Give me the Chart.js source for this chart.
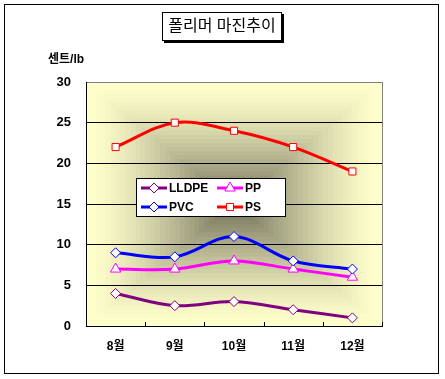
<!DOCTYPE html>
<html>
<head>
<meta charset="utf-8">
<script src="https://cdn.jsdelivr.net/npm/chart.js@4/dist/chart.umd.min.js"></script>
<style>
  html, body { margin:0; padding:0; background:#fff; }
  #wrap { width:445px; height:379px; }
</style>
</head>
<body>
<div id="wrap"><canvas id="chart" width="445" height="379"></canvas></div>
<script>
// chart data
const categories = ['8월', '9월', '10월', '11월', '12월'];
const lldpe = [4, 2.5, 3, 2, 1];
const pp    = [7, 7, 8, 7, 6];
const pvc   = [9, 8.5, 11, 8, 7];
const ps    = [22, 25, 24, 22, 19];
const yMin = 0, yMax = 30, yStep = 5;

const FONT = '"Liberation Sans", "Noto Sans CJK KR", sans-serif';

function series(label, data, color, style, r){
  return {
    label, data,
    borderColor: color, backgroundColor: '#fff',
    borderWidth: 3, tension: 0.35,
    pointStyle: style, pointRadius: r,
    pointBackgroundColor: '#fff', pointBorderColor: color, pointBorderWidth: 1,
    pointHoverRadius: r
  };
}

// gradient background "from center", drawn as stepped rectangles
const plotBg = {
  id: 'plotBg',
  beforeDraw(chart){
    const {ctx, chartArea:a} = chart;
    const edge = [255, 255, 204], mid = [112, 110, 88];
    const steps = 30;
    ctx.save();
    for (let i = 0; i < steps; i++){
      const t = i / (steps - 1);
      const k = Math.pow(t, 1.4);
      const c = edge.map((e, j) => Math.round(e + (mid[j] - e) * k));
      const dx = (a.width / 2) * i / steps, dy = (a.height / 2) * i / steps;
      ctx.fillStyle = `rgb(${c[0]},${c[1]},${c[2]})`;
      ctx.fillRect(a.left + dx, a.top + dy, a.width - 2 * dx, a.height - 2 * dy);
    }
    // right border gray
    ctx.strokeStyle = '#808080';
    ctx.lineWidth = 1;
    ctx.beginPath();
    ctx.moveTo(Math.round(a.right) + 0.5, a.top);
    ctx.lineTo(Math.round(a.right) + 0.5, a.bottom);
    ctx.stroke();
    ctx.restore();
  },
  beforeDatasetsDraw(chart){
    // inside tick marks on the category axis
    const {ctx, chartArea:a} = chart;
    const xs = chart.scales.x;
    const sp = xs.getPixelForValue(1) - xs.getPixelForValue(0);
    ctx.save();
    ctx.strokeStyle = '#000';
    ctx.lineWidth = 1;
    for (let i = 1; i <= categories.length; i++){
      const x = Math.round(xs.getPixelForValue(0) + (i - 0.5) * sp) + 0.5;
      ctx.beginPath();
      ctx.moveTo(x, a.bottom - 4);
      ctx.lineTo(x, a.bottom);
      ctx.stroke();
    }
    ctx.restore();
  }
};

function marker(ctx, style, radius, x, y, color){
  ctx.save();
  ctx.fillStyle = '#fff';
  ctx.strokeStyle = color;
  ctx.lineWidth = 1;
  if (Chart.helpers && Chart.helpers.drawPoint){
    Chart.helpers.drawPoint(ctx, {pointStyle: style, radius, rotation: 0, borderWidth: 1}, x, y);
  }
  ctx.restore();
}

// outer frame, title, axis title, legend
const decor = {
  id: 'decor',
  afterDraw(chart){
    const ctx = chart.ctx;
    ctx.save();
    ctx.strokeStyle = '#000';
    ctx.lineWidth = 1;
    ctx.strokeRect(4.5, 4.5, 434, 369);

    // title box with shadow
    ctx.fillStyle = '#000';
    ctx.fillRect(164, 14, 120, 29);
    ctx.fillStyle = '#fff';
    ctx.fillRect(162, 12, 120, 29);
    ctx.strokeRect(162.5, 12.5, 119, 28);
    ctx.fillStyle = '#000';
    ctx.font = '16px ' + FONT;
    ctx.textAlign = 'center';
    ctx.textBaseline = 'middle';
    ctx.fillText('폴리머 마진추이', 222, 27);

    // unit label
    ctx.font = 'bold 12px ' + FONT;
    ctx.textAlign = 'left';
    ctx.fillText('센트/lb', 48, 60);

    // legend
    const lx = 136, ly = 178, lw = 150, lh = 39;
    ctx.fillStyle = '#fff';
    ctx.fillRect(lx, ly, lw, lh);
    ctx.strokeRect(lx + 0.5, ly + 0.5, lw - 1, lh - 1);
    const order = [0, 2, 1, 3];
    const pos = [[141, 188], [217, 188], [141, 207], [217, 207]];
    order.forEach((di, k) => {
      const ds = chart.data.datasets[di];
      const [x, y] = pos[k];
      ctx.strokeStyle = ds.borderColor;
      ctx.lineWidth = 3;
      ctx.beginPath();
      ctx.moveTo(x, y);
      ctx.lineTo(x + 26, y);
      ctx.stroke();
      marker(ctx, ds.pointStyle, ds.pointRadius, x + 13, y, ds.borderColor);
      ctx.fillStyle = '#000';
      ctx.font = 'bold 12px ' + FONT;
      ctx.textAlign = 'left';
      ctx.textBaseline = 'middle';
      ctx.fillText(ds.label, x + 28, y + 1);
    });
    ctx.restore();
  }
};

new Chart(document.getElementById('chart'), {
  type: 'line',
  data: {
    labels: categories,
    datasets: [
      series('LLDPE', lldpe, '#800080', 'rectRot', 5),
      series('PVC', pvc, '#0000ff', 'rectRot', 5),
      series('PP', pp, '#ff00ff', 'triangle', 6),
      series('PS', ps, '#ff0000', 'rect', 5)
    ]
  },
  options: {
    responsive: false,
    animation: false,
    layout: { padding: { left: 30, right: 63, top: 82, bottom: 20 } },
    plugins: { legend: { display: false }, title: { display: false }, tooltip: { enabled: false } },
    scales: {
      x: {
        offset: true,
        grid: { display: true, offset: true, drawOnChartArea: false, drawTicks: false },
        border: { color: '#000', width: 1 },
        ticks: { color: '#000', font: { family: FONT, size: 12, weight: 'bold' }, padding: 13 },
        afterFit(s){ s.height = 33; }
      },
      y: {
        min: yMin, max: yMax,
        grid: {
          color: c => c.tick.value === yMax ? '#808080' : '#000',
          lineWidth: 1, drawTicks: false
        },
        border: { color: '#000', width: 1 },
        ticks: { stepSize: yStep, color: '#000', font: { family: FONT, size: 13, weight: 'bold' }, padding: 15 },
        afterFit(s){ s.width = 56; }
      }
    }
  },
  plugins: [plotBg, decor]
});
</script>
</body>
</html>
